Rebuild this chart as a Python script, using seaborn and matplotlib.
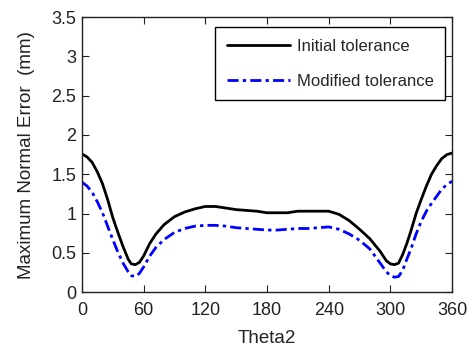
import matplotlib
matplotlib.use("Agg")
import matplotlib.pyplot as plt
import seaborn as sns
import pandas as pd

theta = [0, 5, 10, 15, 20, 25, 30, 35, 40, 45, 48, 52, 56, 60, 66, 72, 80, 90, 100, 110,
         120, 130, 140, 150, 160, 170, 180, 190, 200, 210, 220, 230, 240, 250, 260, 270,
         280, 290, 296, 300, 304, 308, 312, 316, 320, 325, 330, 335, 340, 345, 350, 355, 360]
initial = [1.76, 1.72, 1.65, 1.53, 1.38, 1.18, 0.95, 0.76, 0.58, 0.42, 0.36, 0.35, 0.38, 0.46,
           0.62, 0.74, 0.86, 0.96, 1.02, 1.06, 1.09, 1.09, 1.07, 1.05, 1.04, 1.03, 1.01, 1.01,
           1.01, 1.03, 1.03, 1.03, 1.03, 0.99, 0.91, 0.80, 0.68, 0.52, 0.40, 0.36, 0.35, 0.37,
           0.48, 0.62, 0.78, 1.00, 1.18, 1.35, 1.50, 1.61, 1.70, 1.75, 1.77]
modified = [1.40, 1.35, 1.27, 1.15, 1.01, 0.84, 0.67, 0.51, 0.37, 0.26, 0.21, 0.20, 0.24, 0.32,
            0.46, 0.57, 0.67, 0.76, 0.81, 0.84, 0.85, 0.85, 0.84, 0.82, 0.81, 0.80, 0.79, 0.79,
            0.80, 0.81, 0.81, 0.82, 0.83, 0.80, 0.74, 0.66, 0.55, 0.37, 0.26, 0.21, 0.19, 0.20,
            0.28, 0.42, 0.55, 0.74, 0.90, 1.03, 1.13, 1.22, 1.31, 1.37, 1.41]
xticks = [0, 60, 120, 180, 240, 300, 360]
yticks = [0, 0.5, 1, 1.5, 2, 2.5, 3, 3.5]
ytick_labels = ["0", "0.5", "1", "1.5", "2", "2.5", "3", "3.5"]

sns.set_style("ticks")
plt.rcParams['font.family'] = ['Liberation Sans', 'DejaVu Sans']

df = pd.DataFrame({"theta": theta, "initial": initial, "modified": modified})

fig = plt.figure(figsize=(4.68, 3.47), dpi=100)
ax = fig.add_axes([0.175, 0.158, 0.791, 0.793])

sns.lineplot(data=df, x="theta", y="initial", ax=ax, color="black", lw=2,
             label="Initial tolerance")
sns.lineplot(data=df, x="theta", y="modified", ax=ax, color="#0000ff", lw=2,
             dashes=False, label="Modified tolerance")
ax.lines[1].set_dashes((4, 1.5, 1.2, 1.5))

ax.set_xlim(0, 360)
ax.set_ylim(0, 3.5)
ax.set_xticks(xticks)
ax.set_xticklabels([str(t) for t in xticks])
ax.set_yticks(yticks)
ax.set_yticklabels(ytick_labels)
ax.tick_params(direction="in", length=5, width=0.8, top=True, right=True,
               labelsize=13, colors="#222222")
ax.tick_params(axis="x", pad=7)
ax.tick_params(axis="y", pad=4)
for s in ax.spines.values():
    s.set_linewidth(1.0)
    s.set_color("#222222")
    s.set_visible(True)

ax.set_xlabel("Theta2", fontsize=13.5, color="#222222", labelpad=8)
ax.set_ylabel("Maximum Normal Error  (mm)", fontsize=13.5, color="#222222", labelpad=12)

leg = ax.legend(loc="upper right", fontsize=12, frameon=True, fancybox=False,
                edgecolor="black", framealpha=1, handlelength=3.8, borderpad=0.7,
                labelspacing=1.2, handletextpad=0.4, borderaxespad=0,
                bbox_to_anchor=(0.981, 0.964))
leg.get_frame().set_linewidth(1.0)

fig.savefig("out.png", dpi=100, facecolor="white")
